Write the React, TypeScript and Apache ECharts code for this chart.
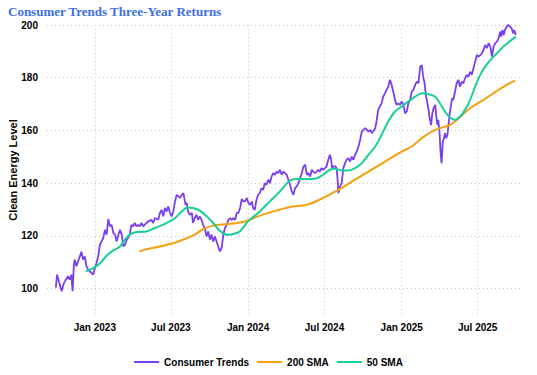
import React, { useEffect, useRef } from 'react';
import * as echarts from 'echarts';

const BASE_DATE = Date.UTC(2023, 0, 1);
const DAY = 86400000;

// Consumer Trends (days since 2023-01-01, level)
const priceDays = [-93,-90,-85,-79,-74,-69,-64,-60,-56,-53,-50,-48,-44,-40,-34,-32,-28,-24,-20,-16,-12,-8,-4,0,4,8,12,16,20,24,28,32,36,40,44,48,52,56,60,64,68,72,76,79,83,87,91,95,99,103,107,111,115,123,127,135,139,143,151,155,159,163,167,171,175,179,183,187,191,195,199,203,207,211,213,216,219,222,226,231,234,238,242,246,250,254,258,262,266,270,274,278,282,286,290,294,298,302,306,310,314,318,322,326,330,334,338,342,346,350,354,358,362,366,370,374,377,381,385,389,393,397,401,405,409,413,417,421,425,429,433,437,441,445,449,453,457,461,465,469,473,477,481,485,489,493,497,501,505,509,513,517,520,524,528,532,536,540,544,548,552,556,560,563,565,568,572,576,579,580,584,588,592,596,600,604,608,612,616,620,624,628,632,636,640,644,648,652,656,660,663,668,671,675,679,683,687,691,695,699,703,706,709,711,715,719,723,727,731,735,739,743,747,751,755,759,763,767,771,775,779,782,785,789,791,795,797,801,804,807,811,813,816,818,821,824,826,829,832,834,837,840,842,845,848,851,854,858,862,866,870,874,878,882,886,890,894,898,902,906,910,914,918,922,926,930,934,938,942,946,950,954,958,962,966,968,971,974,977,981,985,989,993,997,999,1003];
const priceValues = [100.4,105.3,102.3,99,102,103.4,104.7,103.4,105.3,99,109,111,108.5,110.3,113,114,111,112.2,108.5,107.2,106.5,106,105.3,107.8,109.7,112.2,116.7,117.9,119.2,122.3,120.5,126.4,123.6,124.2,121.1,120.5,117.9,120.5,122.3,120.5,116,116.7,118.6,119.2,120.5,124.2,123.6,124.9,123.6,124.2,123.6,124.9,123.6,124.9,125.5,126.1,124.9,126.8,126.1,128.7,129.9,127.4,130.6,129.3,131.2,128.7,127.4,129.3,133.1,135.6,135,134.4,135.6,136.2,134.4,131.8,132.5,129.3,128,128.7,124.9,126.8,128,126.1,127.4,126.1,124.2,123,119.8,121.7,118.6,120.5,117.9,119.8,117.9,116,114.1,115.4,120.5,123,124.2,126.1,126.8,126.1,126.8,126.1,128.7,128.7,130.6,134,133.1,133.1,134.4,132.5,131.8,133.1,130.6,129.9,133.7,135.6,136.2,138.1,137.5,140,139.4,141.3,140,142.5,143.8,143.2,144.4,143.8,145.1,143.2,144.4,143.8,143.2,141.3,139.4,136.9,135.6,138.1,138.8,140,141.9,143.8,146.3,147,143.2,143.8,142.5,145.1,144.4,143.8,144.4,145.1,144.4,145.7,145.1,145.7,146.3,148.9,150.8,148.9,145.7,146.3,146.5,145.7,140,136.2,138.8,140,145.7,147.6,148.9,149.5,148.2,150.1,148.9,150.8,152,153.9,156.4,159.6,160.2,160.9,160.2,159.6,160.2,159,159.6,160.9,163.4,167.8,169.1,170.3,172.8,174.1,175.4,176.6,179.2,177.9,176,174.7,171.6,169.7,170.3,169.7,171,169.7,166.5,167.2,170.3,171.6,174.7,175.4,177.3,178.5,177.9,184.2,184.8,180.4,178.5,172.8,171.6,167.8,165.3,162,166.5,168.4,169.7,165.9,162.1,164,159.6,150.8,147.6,155.8,157.1,159,157.1,158.3,161.5,165.9,169.1,172.2,171.6,174.7,177.9,179.2,176.6,178.5,177.9,179.8,181.1,180.4,182.3,181.1,183.6,186.1,188.6,188,188.6,189.3,190.5,192.4,191.2,193.1,191.8,188,191.8,193.1,193.7,195,197.5,195.6,198.1,196.2,198.1,199.4,200,199.4,198.7,196.8,198.1,196.2];

// 200 SMA
const sma200Days = [106,119,163,199,238,258,282,318,358,385,425,465,505,544,584,612,652,691,731,755,779,811,846,862,894,926,958,981,1001];
const sma200Values = [114.1,114.8,116.3,117.9,120.5,122.6,123.9,124.5,125.5,127.2,129.3,131,131.8,134.4,137.8,140.6,144.4,148.2,152,153.9,157.1,160.2,162.1,164,168.4,171.6,175,177.3,178.9];

// 50 SMA
const sma50Days = [-21,-4,12,28,44,60,72,83,99,123,143,167,191,207,221,234,250,266,282,298,317,334,346,365,393,417,441,465,481,505,529,544,560,572,588,604,620,636,652,668,683,699,715,731,747,763,779,795,811,822,834,846,858,870,882,894,906,918,930,942,958,973,989,1003];
const sma50Values = [106.6,107.8,109.5,112.5,114.5,116,118.6,120.5,121.5,121.7,123,124.6,126.8,129.3,130.8,130.6,129.6,127.5,124.9,121.9,120.4,120.9,121.8,125.5,129.3,133.1,136.9,141,141.6,141.5,141.9,143.2,145.1,145.5,144.8,144.8,145.7,147.6,150.8,153.9,158.3,163.4,167.2,169.1,171,172.8,174.1,173.7,172.8,170.3,167.2,164.9,164,165.3,167.8,171.6,176.6,181.1,184.2,186.7,189.3,191.8,193.9,195.6];

const xTickDates = ['2023-01-01', '2023-07-01', '2024-01-01', '2024-07-01', '2025-01-01', '2025-07-01'];
const xTickLabels = ['Jan 2023', 'Jul 2023', 'Jan 2024', 'Jul 2024', 'Jan 2025', 'Jul 2025'];
const yTicks = [100, 120, 140, 160, 180, 200];

const seriesNames = ['Consumer Trends', '200 SMA', '50 SMA'];
const seriesColors = ['#7a3ff0', '#f5a00f', '#17cf98'];

const toPairs = (days: number[], vals: number[]) =>
  days.map((d, i) => [BASE_DATE + d * DAY, vals[i]]);

export default function App() {
  const ref = useRef<HTMLDivElement>(null);
  useEffect(() => {
    if (!ref.current) return;
    const chart = echarts.init(ref.current, undefined, { renderer: 'svg' });
    const tickTs = xTickDates.map((s) => Date.parse(s));
    const labelFont = { fontFamily: 'Liberation Sans, Arial, sans-serif', fontWeight: 'bold' as const, fontSize: 10, color: '#000' };
    const split = { show: true, lineStyle: { type: [1, 3], color: '#c8c8c8', width: 1 } };
    chart.setOption({
      animation: false,
      backgroundColor: '#ffffff',
      title: {
        text: 'Consumer Trends Three-Year Returns',
        left: 3,
        top: 0,
        textStyle: { fontFamily: 'Liberation Serif, serif', fontWeight: 'bold', fontSize: 13, color: '#3d6fe6' },
      },
      grid: { left: 47, right: 14, top: 25, bottom: 60, containLabel: false, outerBoundsMode: 'none' },
      legend: {
        left: 'center',
        top: 352,
        icon: 'rect',
        itemWidth: 25,
        itemHeight: 2,
        itemGap: 8,
        textStyle: { ...labelFont },
        data: seriesNames,
      },
      xAxis: {
        type: 'value',
        min: BASE_DATE - 114 * DAY,
        max: BASE_DATE + 1020 * DAY,
        axisLine: { show: false },
        axisTick: { show: false, customValues: tickTs },
        axisLabel: {
          ...labelFont,
          margin: 7,
          customValues: tickTs,
          formatter: (v: number) => {
            const i = tickTs.findIndex((t) => Math.abs(t - v) < DAY);
            return i >= 0 ? xTickLabels[i] : '';
          },
        },
        splitLine: split,
      },
      yAxis: {
        type: 'value',
        min: 90,
        max: 200,
        name: 'Clean Energy Level',
        nameLocation: 'middle',
        nameGap: 29,
        nameMoveOverlap: false,
        nameTextStyle: { fontFamily: 'Liberation Sans, Arial, sans-serif', fontWeight: 'bold', fontSize: 11, color: '#000' },
        axisLine: { show: false },
        axisTick: { show: false, customValues: yTicks },
        axisLabel: { ...labelFont, margin: 9, customValues: yTicks },
        splitLine: split,
      },
      series: [
        { name: seriesNames[0], data: toPairs(priceDays, priceValues) },
        { name: seriesNames[1], data: toPairs(sma200Days, sma200Values) },
        { name: seriesNames[2], data: toPairs(sma50Days, sma50Values) },
      ].map((s, i) => ({
        ...s,
        type: 'line',
        symbol: 'none',
        showSymbol: false,
        smooth: i > 0 ? 0.3 : false,
        color: seriesColors[i],
        lineStyle: { color: seriesColors[i], width: i === 0 ? 1.8 : 2 },
      })),
    });
    return () => chart.dispose();
  }, []);
  return <div ref={ref} style={{ position: 'fixed', left: 0, top: 0, width: 537, height: 375 }} />;
}
